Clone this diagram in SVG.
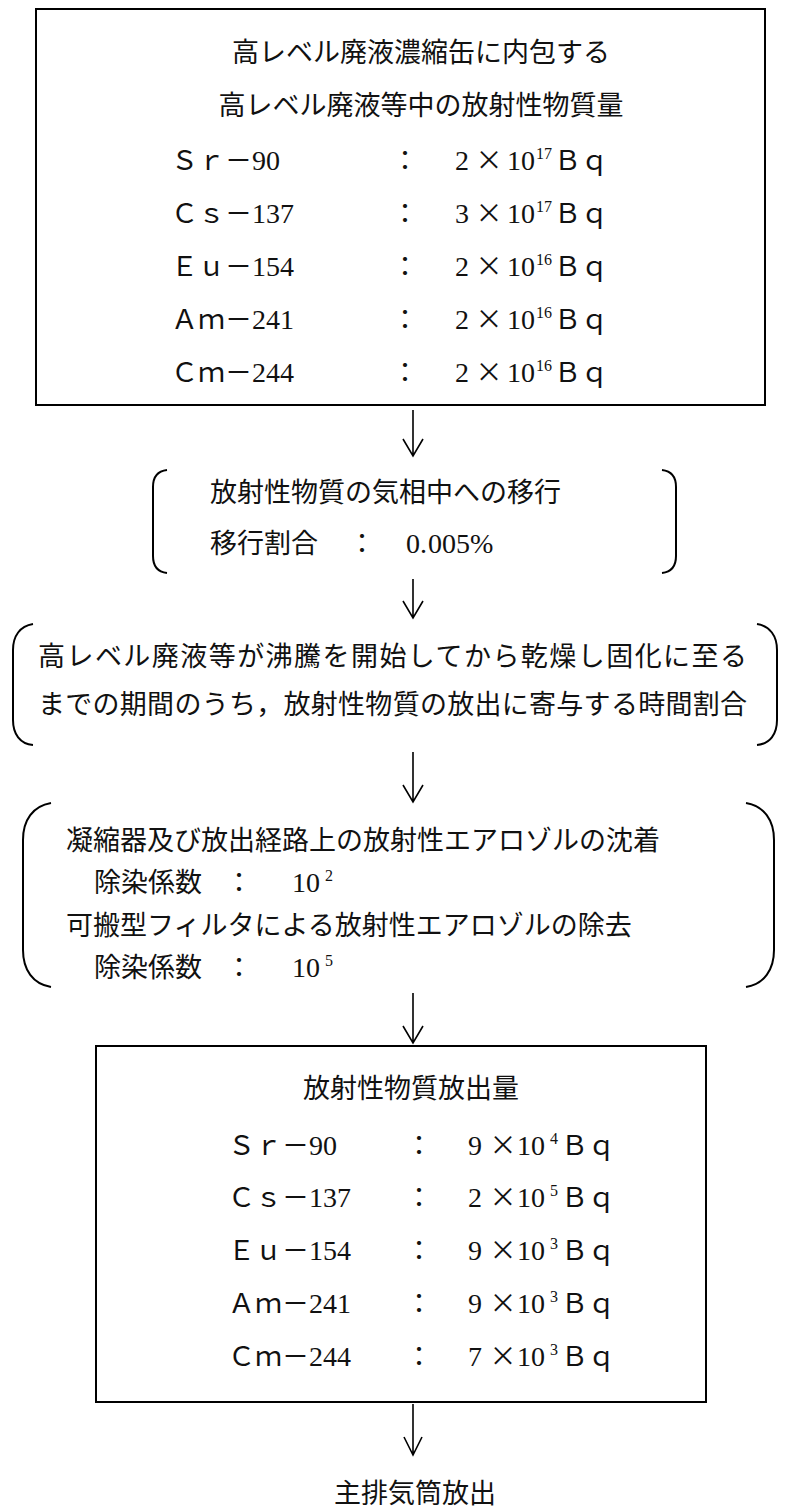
<svg xmlns="http://www.w3.org/2000/svg" width="796" height="1510" viewBox="0 0 796 1510">
<style>
.box{fill:none;stroke:#000;stroke-width:2}
.br{fill:none;stroke:#000;stroke-width:2}
.ar{fill:none;stroke:#000;stroke-width:1.6}
.j{font-family:"Noto Sans CJK JP","Liberation Serif",sans-serif;font-size:27px;fill:#111}
.n{font-family:"Liberation Serif","Noto Sans CJK JP",serif;font-size:28px;fill:#111}
.s{font-family:"Liberation Serif","Noto Sans CJK JP",serif;font-size:16px;fill:#111}
.m{text-anchor:middle}
</style>
<rect width="796" height="1510" fill="#fff"/>
<g id="source">
<rect class="box" x="36" y="9" width="729" height="396"/>
<text class="j m" x="421" y="62">高レベル廃液濃縮缶に内包する</text>
<text class="j m" x="421" y="115">高レベル廃液等中の放射性物質量</text>
<text class="j" x="171" y="170">Ｓｒ－<tspan class="n">90</tspan></text>
<text class="j m" x="405" y="170">：</text>
<text class="n" x="455" y="170">2</text><text class="j m" x="489" y="170">×</text><text class="n" x="507" y="170">10</text><text class="s" x="536" y="159">17</text><text class="j" x="554" y="170">Ｂｑ</text>
<text class="j" x="171" y="223">Ｃｓ－<tspan class="n">137</tspan></text>
<text class="j m" x="405" y="223">：</text>
<text class="n" x="455" y="223">3</text><text class="j m" x="489" y="223">×</text><text class="n" x="507" y="223">10</text><text class="s" x="536" y="212">17</text><text class="j" x="554" y="223">Ｂｑ</text>
<text class="j" x="171" y="276">Ｅｕ－<tspan class="n">154</tspan></text>
<text class="j m" x="405" y="276">：</text>
<text class="n" x="455" y="276">2</text><text class="j m" x="489" y="276">×</text><text class="n" x="507" y="276">10</text><text class="s" x="536" y="265">16</text><text class="j" x="554" y="276">Ｂｑ</text>
<text class="j" x="171" y="329">Ａｍ－<tspan class="n">241</tspan></text>
<text class="j m" x="405" y="329">：</text>
<text class="n" x="455" y="329">2</text><text class="j m" x="489" y="329">×</text><text class="n" x="507" y="329">10</text><text class="s" x="536" y="318">16</text><text class="j" x="554" y="329">Ｂｑ</text>
<text class="j" x="171" y="382">Ｃｍ－<tspan class="n">244</tspan></text>
<text class="j m" x="405" y="382">：</text>
<text class="n" x="455" y="382">2</text><text class="j m" x="489" y="382">×</text><text class="n" x="507" y="382">10</text><text class="s" x="536" y="371">16</text><text class="j" x="554" y="382">Ｂｑ</text>
</g>
<g id="transfer">
<path class="br" d="M167 470 C158 471 153 477 153 487 L153 556 C153 566 158 572 167 573"/>
<path class="br" d="M662 470 C671 471 676 477 676 487 L676 556 C676 566 671 572 662 573"/>
<text class="j" x="210" y="502">放射性物質の気相中への移行</text>
<text class="j" x="210" y="553">移行割合</text>
<text class="j m" x="362" y="553">：</text>
<text class="n" x="406" y="553">0.<tspan x="428">005%</tspan></text>
</g>
<g id="boiling">
<path class="br" d="M33 624 C20 626 13 636 13 650 L13 720 C13 734 20 744 33 745"/>
<path class="br" d="M757 624 C770 626 777 636 777 650 L777 720 C777 734 770 744 757 745"/>
<text class="j" x="38" y="666" textLength="709" lengthAdjust="spacing">高レベル廃液等が沸騰を開始してから乾燥し固化に至る</text>
<text class="j" x="38" y="714" textLength="709" lengthAdjust="spacing">までの期間のうち，放射性物質の放出に寄与する時間割合</text>
</g>
<g id="decontamination">
<path class="br" d="M51 803 C33 806 23 820 23 840 L23 950 C23 970 33 984 51 987"/>
<path class="br" d="M746 803 C764 806 774 820 774 840 L774 950 C774 970 764 984 746 987"/>
<text class="j" x="66" y="850">凝縮器及び放出経路上の放射性エアロゾルの沈着</text>
<text class="j" x="94" y="892">除染係数</text>
<text class="j m" x="239" y="892">：</text>
<text class="n" x="292" y="892">10</text><text class="s" x="325" y="881">2</text>
<text class="j" x="66" y="935">可搬型フィルタによる放射性エアロゾルの除去</text>
<text class="j" x="94" y="977">除染係数</text>
<text class="j m" x="239" y="977">：</text>
<text class="n" x="292" y="977">10</text><text class="s" x="325" y="966">5</text>
</g>
<g id="release">
<rect class="box" x="96" y="1046" width="610" height="356"/>
<text class="j m" x="411" y="1098">放射性物質放出量</text>
<text class="j" x="228" y="1155">Ｓｒ－<tspan class="n">90</tspan></text>
<text class="j m" x="419" y="1155">：</text>
<text class="n" x="468" y="1155">9</text><text class="j m" x="503" y="1155">×</text><text class="n" x="517" y="1155">10</text><text class="s" x="550" y="1144">4</text><text class="j" x="561" y="1155">Ｂｑ</text>
<text class="j" x="228" y="1207">Ｃｓ－<tspan class="n">137</tspan></text>
<text class="j m" x="419" y="1207">：</text>
<text class="n" x="468" y="1207">2</text><text class="j m" x="503" y="1207">×</text><text class="n" x="517" y="1207">10</text><text class="s" x="550" y="1196">5</text><text class="j" x="561" y="1207">Ｂｑ</text>
<text class="j" x="228" y="1260">Ｅｕ－<tspan class="n">154</tspan></text>
<text class="j m" x="419" y="1260">：</text>
<text class="n" x="468" y="1260">9</text><text class="j m" x="503" y="1260">×</text><text class="n" x="517" y="1260">10</text><text class="s" x="550" y="1249">3</text><text class="j" x="561" y="1260">Ｂｑ</text>
<text class="j" x="228" y="1313">Ａｍ－<tspan class="n">241</tspan></text>
<text class="j m" x="419" y="1313">：</text>
<text class="n" x="468" y="1313">9</text><text class="j m" x="503" y="1313">×</text><text class="n" x="517" y="1313">10</text><text class="s" x="550" y="1302">3</text><text class="j" x="561" y="1313">Ｂｑ</text>
<text class="j" x="228" y="1366">Ｃｍ－<tspan class="n">244</tspan></text>
<text class="j m" x="419" y="1366">：</text>
<text class="n" x="468" y="1366">7</text><text class="j m" x="503" y="1366">×</text><text class="n" x="517" y="1366">10</text><text class="s" x="550" y="1355">3</text><text class="j" x="561" y="1366">Ｂｑ</text>
</g>
<g id="stack">
<text class="j m" x="415" y="1503">主排気筒放出</text>
</g>
<g id="connectors">
<path class="ar" d="M413 410 V456 M403 439 L413 456 L423 439"/>
<path class="ar" d="M413 579 V618 M403 601 L413 618 L423 601"/>
<path class="ar" d="M413 752 V802 M403 785 L413 802 L423 785"/>
<path class="ar" d="M413 993 V1043 M403 1026 L413 1043 L423 1026"/>
<path class="ar" d="M413 1404 V1455 M404 1437 L413 1455 L422 1437"/>
</g>
</svg>
